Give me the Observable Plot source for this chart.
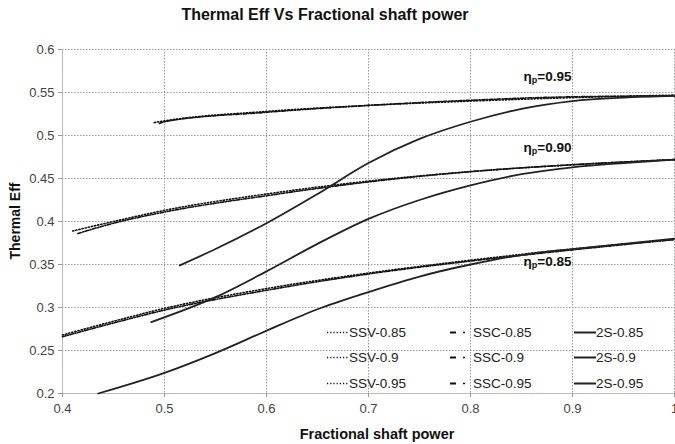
<!DOCTYPE html>
<html><head><meta charset="utf-8">
<script src="https://cdn.jsdelivr.net/npm/d3@7"></script>
<script src="https://cdn.jsdelivr.net/npm/@observablehq/plot@0.6"></script>
<style>
body{margin:0;background:#fff;font-family:"Liberation Sans",Arial,sans-serif;}
#wrap{position:relative;width:675px;height:444px;overflow:hidden;}
#title{height:30px;line-height:30px;text-align:center;font-weight:bold;font-size:16px;color:#111;padding-right:25px;}
.ov{position:absolute;white-space:nowrap;}
.ann{font-weight:bold;font-size:13.5px;color:#111;transform:translate(-50%,-50%);}
.ann sub{font-size:9px;vertical-align:-2px;}
.leg{font-size:13.5px;color:#222;transform:translateY(-50%);}
</style></head>
<body>
<div id="wrap"><div id="title">Thermal Eff Vs Fractional shaft power</div><div id="chart"></div></div>
<script>
// ---- data ----
const seriesNames = ["SSV-0.85","SSV-0.9","SSV-0.95","SSC-0.85","SSC-0.9","SSC-0.95","2S-0.85","2S-0.9","2S-0.95"];
const xSSV95 = [0.49,0.5,0.6,0.7,0.8,0.9,1.0];
const ySSV95 = [0.515,0.517,0.528,0.535,0.540,0.544,0.547];
const xSSC95 = [0.495,0.5,0.6,0.7,0.8,0.9,1.0];
const ySSC95 = [0.514,0.516,0.527,0.535,0.541,0.545,0.546];
const xSSV90 = [0.41,0.45,0.5,0.6,0.7,0.8,0.9,1.0];
const ySSV90 = [0.389,0.400,0.413,0.432,0.447,0.458,0.466,0.472];
const xSSC90 = [0.415,0.45,0.5,0.6,0.7,0.8,0.9,1.0];
const ySSC90 = [0.386,0.398,0.411,0.430,0.446,0.458,0.466,0.472];
const xSSV85 = [0.40,0.45,0.5,0.6,0.7,0.8,0.9,1.0];
const ySSV85 = [0.268,0.284,0.299,0.322,0.340,0.355,0.368,0.379];
const xSSC85 = [0.40,0.45,0.5,0.6,0.7,0.8,0.9,1.0];
const ySSC85 = [0.266,0.282,0.297,0.320,0.339,0.354,0.367,0.379];
const x2S95 = [0.515,0.55,0.6,0.65,0.7,0.75,0.8,0.85,0.9,0.95,1.0];
const y2S95 = [0.349,0.368,0.398,0.432,0.468,0.496,0.516,0.531,0.540,0.544,0.546];
const x2S90 = [0.487,0.55,0.6,0.65,0.7,0.75,0.8,0.85,0.9,0.95,1.0];
const y2S90 = [0.283,0.312,0.342,0.374,0.403,0.425,0.442,0.455,0.463,0.468,0.472];
const x2S85 = [0.435,0.5,0.55,0.6,0.65,0.7,0.75,0.8,0.85,0.9,0.95,1.0];
const y2S85 = [0.200,0.224,0.247,0.273,0.298,0.318,0.336,0.350,0.361,0.368,0.374,0.380];
const xTicks = [0.4,0.5,0.6,0.7,0.8,0.9,1];
const yTicks = [0.2,0.25,0.3,0.35,0.4,0.45,0.5,0.55,0.6];
const annText = ["0.95","0.90","0.85"];
const annX = [0.876,0.876,0.876];
const annY = [0.567,0.485,0.352];

const raw = {
  "SSV-0.85":[xSSV85,ySSV85],"SSV-0.9":[xSSV90,ySSV90],"SSV-0.95":[xSSV95,ySSV95],
  "SSC-0.85":[xSSC85,ySSC85],"SSC-0.9":[xSSC90,ySSC90],"SSC-0.95":[xSSC95,ySSC95],
  "2S-0.85":[x2S85,y2S85],"2S-0.9":[x2S90,y2S90],"2S-0.95":[x2S95,y2S95]
};
const rows = seriesNames.flatMap(s => raw[s][0].map((x,i)=>({series:s,x,y:raw[s][1][i]})));
const styleOf = s => s.startsWith("SSV") ? {dash:"1.2,2",w:1.6,c:"#111"} : s.startsWith("SSC") ? {dash:"3.5,1.6,1,1.6",w:1.6,c:"#111"} : {dash:null,w:1.8,c:"#222"};

const marks = [
  Plot.gridY(yTicks,{stroke:"#999",strokeOpacity:1,strokeDasharray:"1.5,1.5",strokeWidth:1}),
  Plot.gridX(xTicks,{stroke:"#999",strokeOpacity:1,strokeDasharray:"1.5,1.5",strokeWidth:1}),
  Plot.ruleX([0.4],{stroke:"#bbb"}),
  Plot.ruleY([0.2],{stroke:"#bbb"}),
  Plot.axisY(yTicks,{tickSize:4,tickPadding:4,stroke:"#999",fontSize:13,fill:"#444",label:null,tickFormat:d=>String(d)}),
  Plot.axisX(xTicks,{tickSize:4,tickPadding:6,stroke:"#999",fontSize:13,fill:"#444",label:null,tickFormat:d=>String(d)}),
];
for (const s of seriesNames){
  const st = styleOf(s);
  marks.push(Plot.line(rows.filter(r=>r.series===s),{x:"x",y:"y",stroke:st.c,strokeWidth:st.w,strokeDasharray:st.dash,curve:"monotone-x"}));
}
const plot = Plot.plot({
  width:675,height:414,
  marginTop:19,marginBottom:51,marginLeft:62,marginRight:1,
  x:{domain:[0.4,1]},
  y:{domain:[0.2,0.6]},
  style:{fontFamily:"'Liberation Sans',Arial,sans-serif",background:"#fff",overflow:"visible"},
  marks
});
document.getElementById("chart").appendChild(plot);
const wrap = document.getElementById("wrap");
const sx = plot.scale("x"), sy = plot.scale("y");
const TOP = 30;
function add(html, cls, left, top){
  const d=document.createElement("div");d.className="ov "+cls;d.innerHTML=html;d.style.left=left+"px";d.style.top=top+"px";wrap.appendChild(d);
}
annText.forEach((t,i)=>add(`η<sub>p</sub>=${t}`,"ann",sx.apply(annX[i]),TOP+sy.apply(annY[i])));
// axis labels
const xl=document.createElement("div");xl.className="ov";xl.textContent="Fractional shaft power";
xl.style.cssText="left:377px;top:434px;font-weight:bold;font-size:14.5px;color:#111;transform:translate(-50%,-50%);";
wrap.appendChild(xl);
const yl=document.createElement("div");yl.className="ov";yl.textContent="Thermal Eff";
yl.style.cssText="left:15px;top:221px;font-weight:bold;font-size:14px;color:#111;transform:translate(-50%,-50%) rotate(-90deg);";
wrap.appendChild(yl);
// legend
const legCols = [327,450,574], legRows=[332,357,383];
seriesNames.forEach((s,i)=>{
  const col=Math.floor(i/3), row=i%3; const st=styleOf(s);
  const sw = col===1 ? `<svg width="22" height="6" style="vertical-align:middle"><line x1="0" y1="3" x2="6" y2="3" stroke="#111" stroke-width="2"/><line x1="13" y1="3" x2="15" y2="3" stroke="#111" stroke-width="1.6"/></svg>`
    : `<svg width="22" height="6" style="vertical-align:middle"><line x1="0" y1="3" x2="22" y2="3" stroke="${st.c}" stroke-width="${st.w}" ${st.dash?`stroke-dasharray="${st.dash}"`:""}/></svg>`;
  add(sw+`<span style="margin-left:${col===1?1:0}px">${s}</span>`,"leg",legCols[col],legRows[row]);
});
</script>
</body></html>
